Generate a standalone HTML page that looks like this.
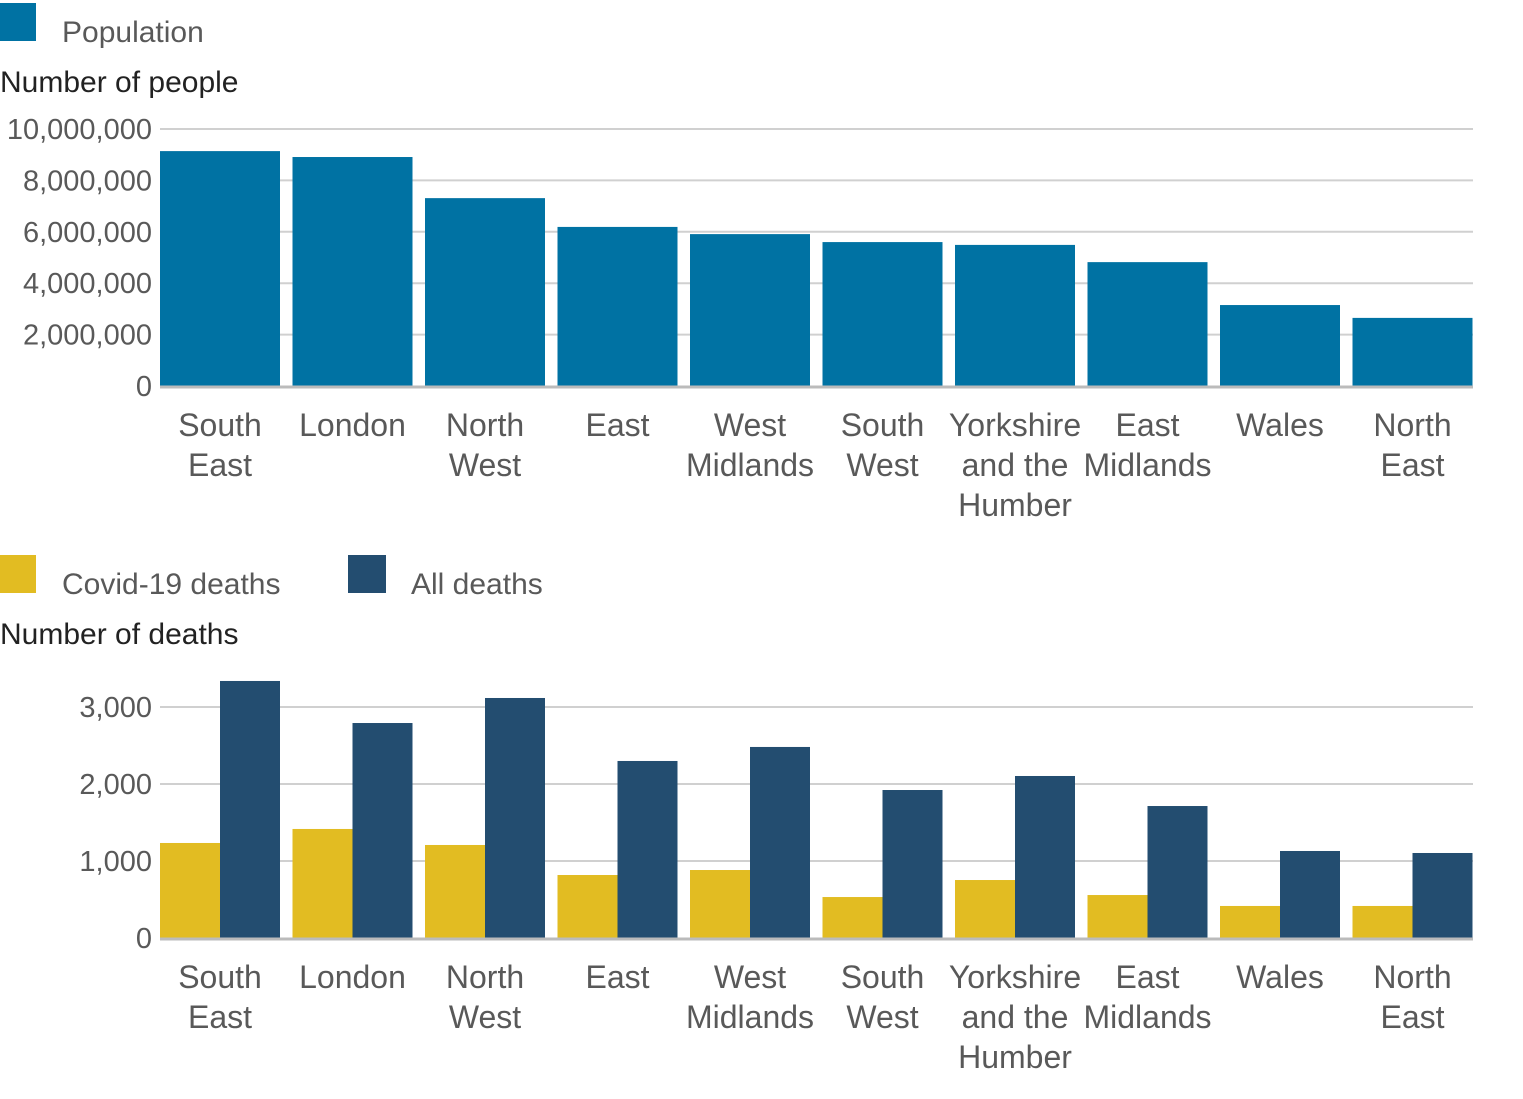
<!DOCTYPE html>
<html><head><meta charset="utf-8"><style>
body{margin:0;background:#fff;width:1523px;height:1094px;overflow:hidden;font-family:"Liberation Sans",sans-serif}
svg text{font-family:"Liberation Sans",sans-serif}
</style></head><body>
<svg id="c" width="1523" height="1094" xmlns="http://www.w3.org/2000/svg"></svg>
<script>
const categories=[["South","East"],["London"],["North","West"],["East"],["West","Midlands"],["South","West"],["Yorkshire","and the","Humber"],["East","Midlands"],["Wales"],["North","East"]];
const population=[9140000,8910000,7310000,6190000,5910000,5600000,5490000,4820000,3150000,2650000];
const covidDeaths=[1234,1416,1208,818,883,532,753,558,416,416];
const allDeaths=[3338,2792,3117,2299,2481,1922,2104,1714,1130,1104];
const popTicks=[0,2000000,4000000,6000000,8000000,10000000];
const popTickLabels=["0","2,000,000","4,000,000","6,000,000","8,000,000","10,000,000"];
const deathTicks=[0,1000,2000,3000];
const deathTickLabels=["0","1,000","2,000","3,000"];

const svg=document.getElementById('c');
const NS="http://www.w3.org/2000/svg";
function mk(tag,attrs,parent){const e=document.createElementNS(NS,tag);for(const k in attrs)e.setAttribute(k,attrs[k]);(parent||svg).appendChild(e);return e;}
const X0=160,X1=1473,band=132.5,barW=120;
const bx=i=>X0+i*band;

function txt(x,y,s,size,anchor,fill,name){const t=mk('text',{x:x,y:y,'font-size':size,'text-anchor':anchor,fill:fill});t.textContent=s;

return t;}

function rect(x,y,w,h,fill,name){const r=mk('rect',{x:x,y:y,width:w,height:h,fill:fill});

return r;}

// Top chart
const pY=v=>386-v*(386-129)/10000000;
rect(0,3,36,38,'#0072a3','legend-population-swatch');
txt(62,42,'Population',30,'start','#595959','legend-population-label');
txt(0,92,'Number of people',30,'start','#222','y-axis-title-population');
popTicks.forEach((t,i)=>{
  if(i>0){const l=mk('line',{x1:X0,x2:X1,y1:pY(t),y2:pY(t),stroke:'#d0d0d0','stroke-width':2});
  
  }
  txt(152,pY(t)+10,popTickLabels[i],29,'end','#595959','y-tick-label');
});
population.forEach((v,i)=>{rect(bx(i),pY(v),barW,pY(0)-pY(v),'#0072a3','bar-population');});
{const l=mk('line',{x1:X0,x2:X1,y1:387,y2:387,stroke:'#bbb','stroke-width':3});

}
categories.forEach((c,i)=>c.forEach((s,j)=>txt(bx(i)+barW/2,436+j*40,s,32,'middle','#595959','x-tick-label')));

// Bottom chart
const dY=v=>938-v*(938-707)/3000;
rect(0,555,36,38,'#e2bc22','legend-covid-swatch');
txt(62,594,'Covid-19 deaths',30,'start','#595959','legend-covid-label');
rect(348,555,38,38,'#234d70','legend-all-swatch');
txt(411,594,'All deaths',30,'start','#595959','legend-all-label');
txt(0,644,'Number of deaths',30,'start','#222','y-axis-title-deaths');
deathTicks.forEach((t,i)=>{
  if(i>0){const l=mk('line',{x1:X0,x2:X1,y1:dY(t),y2:dY(t),stroke:'#d0d0d0','stroke-width':2});
  
  }
  txt(152,dY(t)+10,deathTickLabels[i],29,'end','#595959','y-tick-label');
});
covidDeaths.forEach((v,i)=>{rect(bx(i),dY(v),barW/2,dY(0)-dY(v),'#e2bc22','bar-covid-deaths');});
allDeaths.forEach((v,i)=>{rect(bx(i)+barW/2,dY(v),barW/2,dY(0)-dY(v),'#234d70','bar-all-deaths');});
{const l=mk('line',{x1:X0,x2:X1,y1:939,y2:939,stroke:'#bbb','stroke-width':3});

}
categories.forEach((c,i)=>c.forEach((s,j)=>txt(bx(i)+barW/2,988+j*40,s,32,'middle','#595959','x-tick-label')));
</script>
</body></html>
